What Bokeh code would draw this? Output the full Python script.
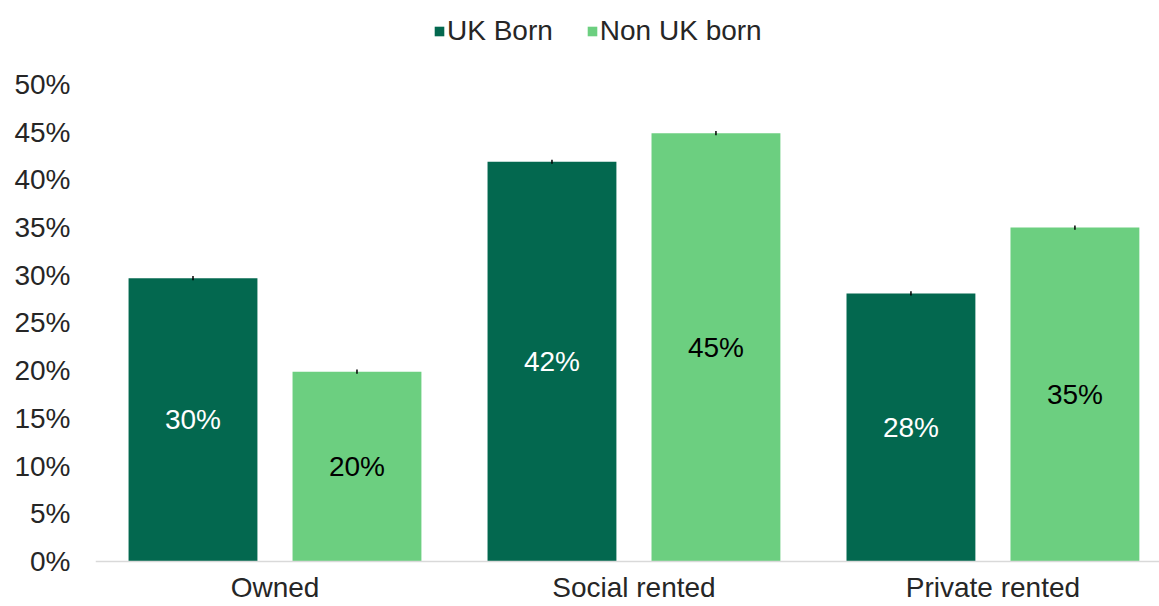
from bokeh.plotting import figure
from bokeh.models import (ColumnDataSource, Range1d, FixedTicker, NumeralTickFormatter,
                          Legend, LegendItem, Span)
from bokeh.core.properties import value
from bokeh.embed import file_html
from bokeh.resources import INLINE

categories = ["Owned", "Social rented", "Private rented"]
series = ["UK Born", "Non UK born"]
uk_born = [0.297, 0.419, 0.281]
non_uk_born = [0.199, 0.449, 0.350]
uk_err = [0.0022, 0.0022, 0.0022]
non_uk_err = [0.0022, 0.0022, 0.0022]
y_ticks = [0, 0.05, 0.10, 0.15, 0.20, 0.25, 0.30, 0.35, 0.40, 0.45, 0.50]

DARK = "#03684F"
LIGHT = "#6CCF80"
TEXT = "#262626"
FONT = "Liberation Sans"
FS = "28px"

centers = [i + 0.5 for i in range(len(categories))]
offset = 0.2284
bar_w = 0.359

p = figure(width=1159, height=606, output_backend="svg", toolbar_location=None,
           x_range=Range1d(0, 2.964), y_range=Range1d(-0.04717, 0.58805),
           min_border_left=95, min_border_right=0, min_border_top=0, min_border_bottom=0)
p.outline_line_color = None
p.background_fill_color = "white"
p.border_fill_color = "white"
p.xgrid.grid_line_color = None
p.ygrid.grid_line_color = None
p.xaxis.visible = False

def make_src(vals, errs, shift, label_color):
    xs = [c + shift for c in centers]
    return ColumnDataSource(dict(
        x=xs, top=vals, mid=[v / 2 for v in vals],
        lo=[v - e for v, e in zip(vals, errs)], hi=[v + e for v, e in zip(vals, errs)],
        label=[f"{round(v * 100)}%" for v in vals],
        color=[label_color] * len(vals)))

src_uk = make_src(uk_born, uk_err, -offset, "white")
src_non = make_src(non_uk_born, non_uk_err, offset, "black")

r_uk = p.vbar(x="x", top="top", width=bar_w, source=src_uk, fill_color=DARK, line_color=None)
r_non = p.vbar(x="x", top="top", width=bar_w, source=src_non, fill_color=LIGHT, line_color=None)

for src in (src_uk, src_non):
    p.segment(x0="x", x1="x", y0="lo", y1="hi", source=src, line_color="black", line_width=1.5)
    p.text(x="x", y="mid", text="label", source=src, text_color="color",
           text_align="center", text_baseline="middle",
           text_font=value(FONT), text_font_size=FS)

# baseline (category axis line) and category labels
p.add_layout(Span(location=0, dimension="width", line_color="#D9D9D9", line_width=1.5))
cat_src = ColumnDataSource(dict(x=centers, y=[0] * len(centers), label=categories))
p.text(x="x", y="y", text="label", source=cat_src, y_offset=11,
       text_align="center", text_baseline="top", text_color=TEXT,
       text_font=value(FONT), text_font_size=FS)

# value axis
p.yaxis.ticker = FixedTicker(ticks=y_ticks)
p.yaxis.formatter = NumeralTickFormatter(format="0%")
p.yaxis.axis_line_color = None
p.yaxis.major_tick_line_color = None
p.yaxis.minor_tick_line_color = None
p.yaxis.major_label_standoff = 19
p.yaxis.major_label_text_font = FONT
p.yaxis.major_label_text_font_size = FS
p.yaxis.major_label_text_color = TEXT

legend = Legend(items=[LegendItem(label=series[0], renderers=[r_uk]),
                       LegendItem(label=series[1], renderers=[r_non])],
                orientation="horizontal", location=(338, 559),
                glyph_width=12, glyph_height=12, label_standoff=2, spacing=33,
                padding=0, margin=0, border_line_color=None, background_fill_alpha=0,
                label_text_font=FONT, label_text_font_size=FS, label_text_color=TEXT)
p.add_layout(legend, "center")

open("out.html", "w").write(file_html(p, INLINE))
